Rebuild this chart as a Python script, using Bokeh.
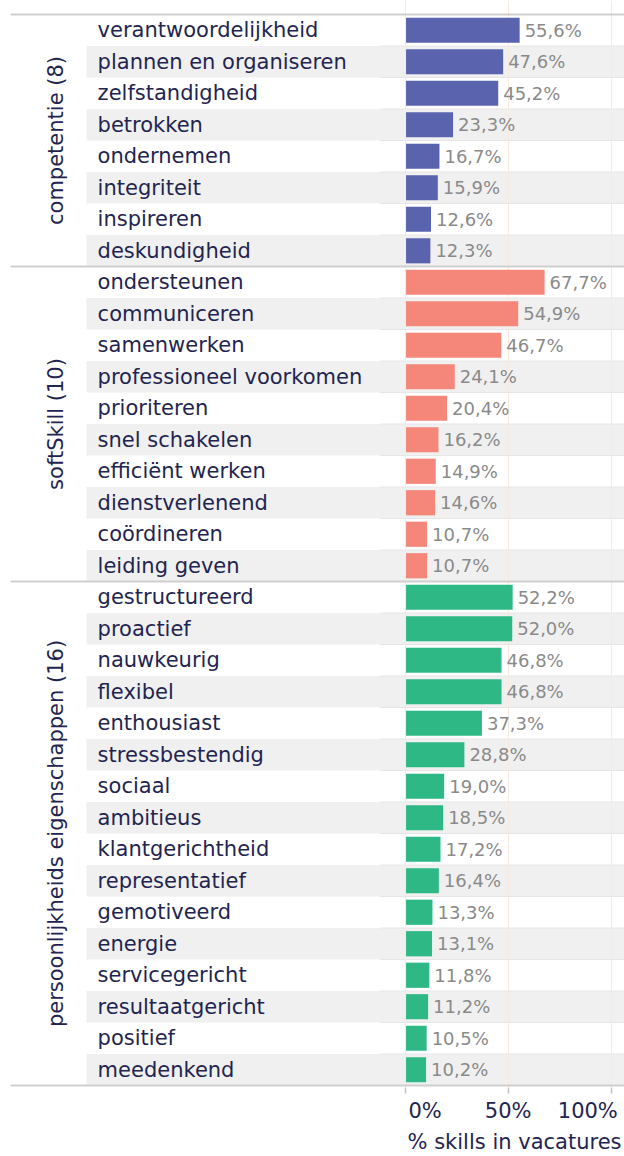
import math
from bokeh.plotting import figure
from bokeh.models import ColumnDataSource, Range1d, FixedTicker, PrintfTickFormatter, Title
from bokeh.core.properties import value
from bokeh.embed import file_html
from bokeh.resources import INLINE

# ---- data ----
groups = ["competentie (8)", "softSkill (10)", "persoonlijkheids eigenschappen (16)"]
competentie_skills = ["verantwoordelijkheid", "plannen en organiseren", "zelfstandigheid", "betrokken",
                      "ondernemen", "integriteit", "inspireren", "deskundigheid"]
competentie_values = [55.6, 47.6, 45.2, 23.3, 16.7, 15.9, 12.6, 12.3]
softskill_skills = ["ondersteunen", "communiceren", "samenwerken", "professioneel voorkomen", "prioriteren",
                    "snel schakelen", "efficiënt werken", "dienstverlenend", "coördineren", "leiding geven"]
softskill_values = [67.7, 54.9, 46.7, 24.1, 20.4, 16.2, 14.9, 14.6, 10.7, 10.7]
persoon_skills = ["gestructureerd", "proactief", "nauwkeurig", "flexibel", "enthousiast", "stressbestendig",
                  "sociaal", "ambitieus", "klantgerichtheid", "representatief", "gemotiveerd", "energie",
                  "servicegericht", "resultaatgericht", "positief", "meedenkend"]
persoon_values = [52.2, 52.0, 46.8, 46.8, 37.3, 28.8, 19.0, 18.5, 17.2, 16.4, 13.3, 13.1, 11.8, 11.2, 10.5, 10.2]
group_colors = ["#5a64ae", "#f4877a", "#2eb886"]
x_ticks = [0, 50, 100]
x_axis_label = "% skills in vacatures"

navy = "#1f2550"
FONT = "DejaVu Sans"

# ---- build rows ----
all_skills, all_values, all_colors, all_rows = [], [], [], []
group_bounds = []
row = 0
for skills, vals, col in zip([competentie_skills, softskill_skills, persoon_skills],
                             [competentie_values, softskill_values, persoon_values], group_colors):
    start = row
    for s, v in zip(skills, vals):
        all_skills.append(s)
        all_values.append(v)
        all_colors.append(col)
        all_rows.append(row + 0.5)
        row += 1
    group_bounds.append((start, row))
n_rows = row

labels = [("%.1f" % v).replace(".", ",") + "%" for v in all_values]
src = ColumnDataSource(dict(y=all_rows, v=all_values, c=all_colors, skill=all_skills, lab=labels))

# ---- figure ----
X0, X1 = -196.2, 106.45
p = figure(width=624, height=1156, output_backend="svg", toolbar_location=None,
           x_range=Range1d(X0, X1), y_range=Range1d(n_rows + 2 / 31.5, -14 / 31.5),
           y_axis_location=None, min_border_left=0, min_border_right=0, min_border_top=0,
           min_border_bottom=60)
p.outline_line_color = None
p.ygrid.visible = False
p.xgrid.ticker = FixedTicker(ticks=x_ticks)
p.xgrid.grid_line_color = "#f7e9dd"
p.xgrid.grid_line_width = 1
p.background_fill_color = "white"
p.border_fill_color = "white"

# stripes (odd rows)
stripe_rows = [r for r in all_rows if int(r) % 2 == 1]
p.quad(left=-154.5, right=X1 + 5, top=[r - 0.5 for r in stripe_rows], bottom=[r + 0.5 for r in stripe_rows],
       fill_color="#f0f0f0", line_color=None, level="image")

# row boundary lines in the bar area
p.segment(x0=-12, x1=X1 + 5, y0=list(range(1, n_rows)), y1=list(range(1, n_rows)),
          line_color="#e6e6e6", line_width=1, level="image")

# bars
p.hbar(y="y", left=0.5, right="v", height=0.8, fill_color="c", line_color=None, source=src)

# value labels
p.text(x="v", y="y", text="lab", source=src, text_align="left", text_baseline="middle",
       x_offset=5, text_font=value(FONT), text_font_size="18px", text_color="#8a8a8a")

# skill labels
p.text(x=-149.1, y="y", text="skill", source=src, text_align="left", text_baseline="middle",
       y_offset=0, text_font=value(FONT), text_font_size="21px", text_color=navy)

# group labels
gsrc = ColumnDataSource(dict(g=groups, y=[(a + b) / 2 for a, b in group_bounds]))
p.text(x=-169.5, y="y", text="g", source=gsrc, angle=math.pi / 2, text_align="center",
       text_baseline="middle", text_font=value(FONT), text_font_size="21px", text_color=navy)

# group separator lines
seps = [0] + [b for _, b in group_bounds]
p.segment(x0=-191.3, x1=X1 + 5, y0=seps, y1=seps, line_color="#cfcfcf", line_width=2)

# x axis
ax = p.xaxis[0]
ax.ticker = FixedTicker(ticks=x_ticks)
ax.formatter = PrintfTickFormatter(format="%d%%")
ax.major_label_overrides = {0: "\u00a0" * 6 + "0%", 100: "100%" + "\u00a0"}
ax.axis_line_color = None
ax.major_tick_line_color = "#c4c4c4"
ax.major_tick_line_width = 1.5
ax.major_tick_in = 0
ax.major_tick_out = 6
ax.minor_tick_line_color = None
ax.major_label_text_font = FONT
ax.major_label_text_font_size = "21px"
ax.major_label_text_color = navy
ax.major_label_standoff = 5

p.add_layout(Title(text=x_axis_label, align="right", text_font=FONT, text_font_size="21px",
                   text_color=navy, text_font_style="normal", standoff=5, offset=3), "below")

open("out.html", "w").write(file_html(p, INLINE))
